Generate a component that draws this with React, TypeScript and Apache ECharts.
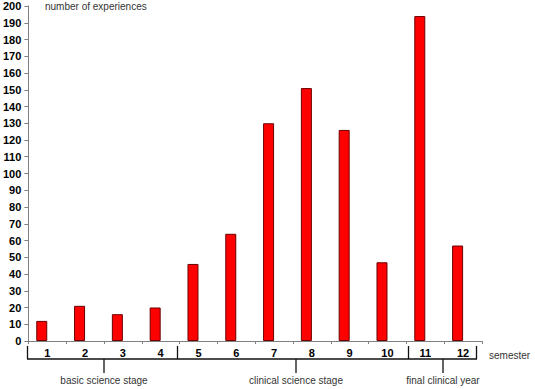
import React, { useEffect, useRef } from "react";
import * as echarts from "echarts";

const semesters = ["1", "2", "3", "4", "5", "6", "7", "8", "9", "10", "11", "12"];
const experiences = [12, 21, 16, 20, 46, 64, 130, 151, 126, 47, 194, 57];
const emptySeries = semesters.map(() => "-");
const stages = [
  { name: "basic science stage", x: 104 },
  { name: "clinical science stage", x: 296 },
  { name: "final clinical year", x: 443 },
];

const FONT = "Arial, 'Liberation Sans', sans-serif";

export default function App() {
  const ref = useRef<HTMLDivElement>(null);
  useEffect(() => {
    const chart = echarts.init(ref.current!, null, { renderer: "svg" });
    const boxTop = 346;
    const boxBottom = 359;
    const lineStyle = { stroke: "#111", lineWidth: 1.3 };
    const graphic: any[] = [
      { type: "line", shape: { x1: 27.5, y1: boxTop, x2: 27.5, y2: boxBottom }, style: lineStyle },
      { type: "line", shape: { x1: 177.5, y1: boxTop, x2: 177.5, y2: boxBottom }, style: lineStyle },
      { type: "line", shape: { x1: 408.5, y1: boxTop, x2: 408.5, y2: boxBottom }, style: lineStyle },
      { type: "line", shape: { x1: 476.5, y1: boxTop, x2: 476.5, y2: boxBottom }, style: lineStyle },
      { type: "line", shape: { x1: 27, y1: boxBottom, x2: 477, y2: boxBottom }, style: lineStyle },
      {
        type: "text",
        left: 45,
        top: 1,
        style: { text: "number of experiences", font: `10px ${FONT}`, fill: "#333" },
      },
      {
        type: "text",
        left: 489,
        top: 350,
        style: { text: "semester", font: `10px ${FONT}`, fill: "#333" },
      },
    ];
    stages.forEach((s) => {
      graphic.push({
        type: "line",
        shape: { x1: s.x, y1: boxBottom, x2: s.x, y2: 373 },
        style: lineStyle,
      });
      graphic.push({
        type: "text",
        x: s.x,
        y: 380,
        style: {
          text: s.name,
          font: `10px ${FONT}`,
          fill: "#333",
          align: "center",
          verticalAlign: "middle",
        },
      });
    });

    chart.setOption({
      animation: false,
      grid: { left: 27, right: 53, top: 6, bottom: 48, containLabel: false },
      xAxis: {
        type: "category",
        data: semesters,
        axisLine: { show: true, lineStyle: { color: "#808080", width: 1 } },
        axisTick: { show: true, length: 3, lineStyle: { color: "#808080" } },
        axisLabel: {
          color: "#000",
          fontWeight: "bold",
          fontSize: 11,
          fontFamily: FONT,
          margin: 6,
        },
      },
      yAxis: {
        type: "value",
        min: 0,
        max: 200,
        interval: 10,
        splitLine: { show: false },
        axisLine: { show: true, lineStyle: { color: "#808080", width: 1 } },
        axisTick: { show: true, length: 4, lineStyle: { color: "#808080" } },
        axisLabel: {
          color: "#000",
          fontWeight: "bold",
          fontSize: 11,
          fontFamily: FONT,
          margin: 7,
        },
      },
      series: [
        {
          type: "bar",
          data: experiences,
          barWidth: 11,
          barGap: "0%",
          itemStyle: { color: "#ff0000", borderColor: "#6b0000", borderWidth: 1 },
        },
        {
          type: "bar",
          data: emptySeries,
          barWidth: 11,
          itemStyle: { color: "#ff0000" },
        },
      ],
      graphic,
    });
    return () => chart.dispose();
  }, []);
  return (
    <div
      ref={ref}
      style={{ position: "absolute", left: 0, top: 0, width: 535, height: 389, background: "#fff" }}
    />
  );
}
